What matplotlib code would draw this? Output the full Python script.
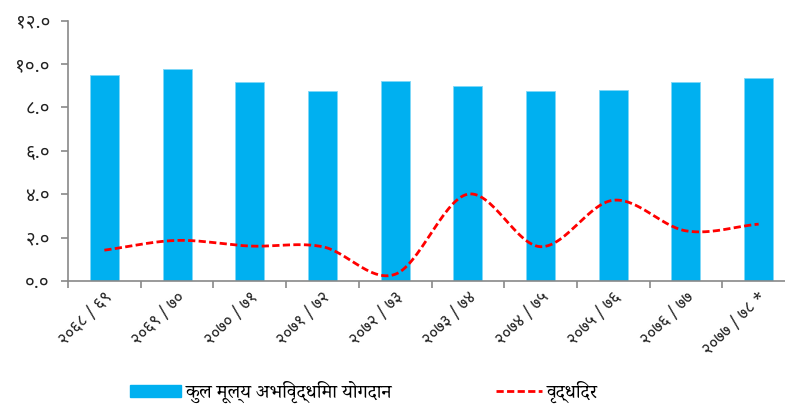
import matplotlib
matplotlib.use("Agg")
import matplotlib.pyplot as plt
import numpy as np
from matplotlib.patches import Patch
from matplotlib.lines import Line2D

# ---------------- data ----------------
categories = ["२०६८ / ६९", "२०६९ / ७०", "२०७० / ७१", "२०७१ / ७२", "२०७२ / ७३",
              "२०७३ / ७४", "२०७४ / ७५", "२०७५ / ७६", "२०७६ / ७७", "२०७७ / ७८ *"]
contribution = [9.50, 9.75, 9.15, 8.74, 9.23, 8.97, 8.74, 8.81, 9.15, 9.37]
growth_rate = [1.42, 1.87, 1.61, 1.58, 0.31, 4.00, 1.58, 3.72, 2.31, 2.62]
yticks = [0, 2, 4, 6, 8, 10, 12]
ytick_labels = ["०.०", "२.०", "४.०", "६.०", "८.०", "१०.०", "१२.०"]
legend_labels = ["कुल मूल्य अभिवृद्धिमा योगदान", "वृद्धिदर"]

DEVA = ['Noto Sans Devanagari', 'Noto Sans Devanagari UI', 'Mukta', 'DejaVu Sans']
DEVA_SERIF = ['Noto Serif Devanagari', 'Martel', 'Sahitya', 'Noto Sans Devanagari', 'DejaVu Sans']
plt.rcParams['font.family'] = DEVA

BAR = '#00B0F0'
RED = '#FF0000'
GREY = '#898989'

W, H = 785, 405
fig = plt.figure(figsize=(W / 100, H / 100), dpi=100)
ax = fig.add_axes([68 / W, 124 / H, 727 / W, 260.5 / H])

x = np.arange(len(categories))
ax.bar(x, contribution, width=0.40, color=BAR, edgecolor='#7FD7F7', linewidth=0.6, zorder=2)


def catmull_rom(xs, ys, n=30):
    xs = np.asarray(xs, float)
    ys = np.asarray(ys, float)
    px = np.concatenate([[2 * xs[0] - xs[1]], xs, [2 * xs[-1] - xs[-2]]])
    py = np.concatenate([[2 * ys[0] - ys[1]], ys, [2 * ys[-1] - ys[-2]]])
    ox, oy = [], []
    t = np.linspace(0, 1, n, endpoint=False)
    for i in range(1, len(px) - 2):
        for arr, out in ((px, ox), (py, oy)):
            p0, p1, p2, p3 = arr[i - 1], arr[i], arr[i + 1], arr[i + 2]
            out.extend(0.5 * ((2 * p1) + (-p0 + p2) * t
                              + (2 * p0 - 5 * p1 + 4 * p2 - p3) * t ** 2
                              + (-p0 + 3 * p1 - 3 * p2 + p3) * t ** 3))
    ox.append(xs[-1])
    oy.append(ys[-1])
    return np.array(ox), np.array(oy)


sx, sy = catmull_rom(x, growth_rate)
ax.plot(sx, sy, color=RED, lw=2.0, linestyle=(0, (2.6, 1.2)), zorder=3)

ax.set_xlim(-0.5, len(categories) - 0.5)
ax.set_ylim(0, 12)
ax.set_yticks(yticks)
ax.set_yticklabels(ytick_labels, fontsize=13.5, color='#222222')
ax.set_xticks(np.arange(len(categories) + 1) - 0.5, minor=False)
ax.set_xticklabels([])
ax.set_xticks(x, minor=True)
ax.set_xticklabels(categories, minor=True, rotation=45, ha='right',
                   rotation_mode='anchor', fontsize=12, color='#222222')
ax.tick_params(axis='x', which='minor', length=0, pad=6)
ax.tick_params(axis='x', which='major', length=5, width=1.2, color=GREY, direction='out')
ax.tick_params(axis='y', length=5, width=1.2, color=GREY, direction='out', pad=8)

for s in ['top', 'right']:
    ax.spines[s].set_visible(False)
for s in ['left', 'bottom']:
    ax.spines[s].set_color(GREY)
    ax.spines[s].set_linewidth(1.2)

h1 = Patch(facecolor=BAR, edgecolor=BAR)
h2 = Line2D([0], [0], color=RED, lw=2.0, linestyle=(0, (2.6, 1.2)))
leg1 = fig.legend([h1], [legend_labels[0]], loc='center left',
                  bbox_to_anchor=(112 / W, 1 - 392 / H), frameon=False,
                  handlelength=2.67, handleheight=0.6, handletextpad=0.25,
                  prop={'family': DEVA_SERIF, 'size': 14})
leg2 = fig.legend([h2], [legend_labels[1]], loc='center left',
                  bbox_to_anchor=(478 / W, 1 - 392 / H), frameon=False,
                  handlelength=2.4, handletextpad=0.25,
                  prop={'family': DEVA_SERIF, 'size': 14})

fig.savefig("out.png", dpi=100)
